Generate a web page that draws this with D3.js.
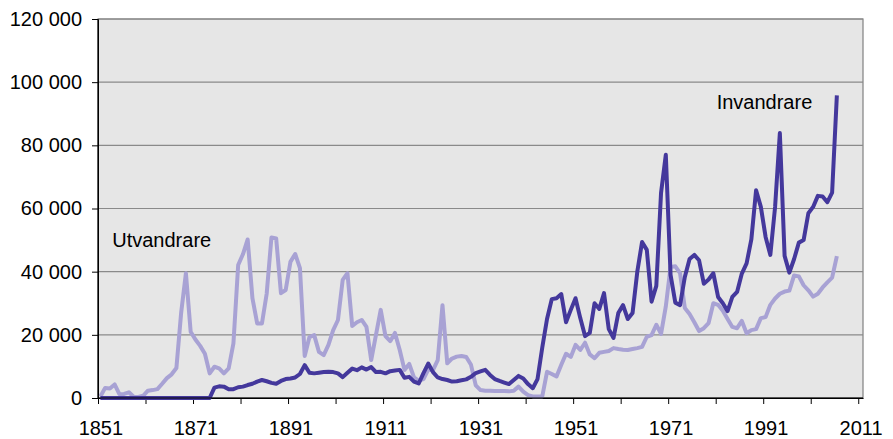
<meta charset="utf-8">
<style>
	body { margin: 0; background: #fff; }
	svg { display: block; }
	* { font-family: "Liberation Sans", Arial, sans-serif; }
	.axis text { font-size: 20px; fill: #000; }
	.axis path, .axis line { stroke: #000; }
	.lbl { font-size: 20px; fill: #000; }
</style>
<body>
<script src="https://cdn.jsdelivr.net/npm/d3@7"></script>
<svg id="svg"></svg>
<script>

// DATA
var firstYear = 1851
var lastYear = 2006

// Utvandrare (emigrants), 1851-2006, one value per year
var utvandrare = [
	500, 3200, 3000, 4300, 1200, 1300, 1800, 400, 300, 700,            // 1851-1860
	2300, 2500, 2800, 4500, 6300, 7500, 9500, 27000, 39500, 21000,     // 1861-1870
	18500, 16500, 14000, 7800, 9900, 9400, 7800, 9400, 17300, 42100,   // 1871-1880
	45500, 50200, 31600, 23600, 23600, 33000, 50800, 50500, 33200, 34200, // 1881-1890
	43100, 45600, 41100, 13300, 19300, 19900, 14600, 13600, 16800, 21500, // 1891-1900
	24700, 37400, 39500, 22800, 24000, 24700, 22500, 12000, 20000, 27900, // 1901-1910
	19600, 18000, 20600, 15200, 8900, 10800, 6500, 5500, 6000, 9000,   // 1911-1920
	8800, 12000, 29400, 11000, 12500, 13100, 13300, 13000, 10500, 4000, // 1921-1930
	2500, 2300, 2300, 2200, 2200, 2200, 2100, 2300, 3600, 2000,        // 1931-1940
	900, 500, 500, 500, 8300, 7600, 6800, 10500, 14000, 13000,         // 1941-1950
	16800, 15200, 17500, 13800, 12600, 14300, 14600, 14900, 15800, 15500, // 1951-1960
	15300, 15200, 15500, 15800, 16200, 19400, 19900, 23200, 20300, 29000, // 1961-1970
	41500, 41700, 39500, 28500, 26600, 24000, 21200, 22100, 23700, 30000, // 1971-1980
	29500, 27600, 25000, 22500, 22100, 24400, 20500, 21500, 21800, 25300, // 1981-1990
	25600, 29500, 31500, 33000, 33700, 34000, 38800, 38500, 35700, 34100, // 1991-2000
	32100, 33000, 35000, 36600, 38100, 44900                           // 2001-2006
]

// Invandrare (immigrants), 1851-2006 (no figures before 1875, drawn as 0)
var invandrare = [
	0, 0, 0, 0, 0, 0, 0, 0, 0, 0,                                      // 1851-1860
	0, 0, 0, 0, 0, 0, 0, 0, 0, 0,                                      // 1861-1870
	0, 0, 0, 0, 3300, 3700, 3600, 2800, 2800, 3400,                    // 1871-1880
	3600, 4100, 4500, 5200, 5700, 5300, 4800, 4500, 5400, 6000,        // 1881-1890
	6200, 6500, 7600, 10400, 8000, 7800, 8000, 8200, 8300, 8200,       // 1891-1900
	7800, 6600, 8000, 9300, 8800, 9700, 9000, 9800, 8200, 8300,        // 1901-1910
	7800, 8500, 8700, 8900, 6400, 6700, 5200, 4600, 7900, 10900,       // 1911-1920
	8200, 6500, 6000, 5700, 5200, 5300, 5600, 5900, 6700, 7900,        // 1921-1930
	8400, 8900, 7300, 6000, 5400, 4900, 4400, 5700, 7000, 6200,        // 1931-1940
	4400, 3100, 6000, 16000, 25000, 31300, 31600, 32900, 24000, 27900, // 1941-1950
	31600, 25300, 19600, 20600, 30000, 28200, 33200, 21800, 19000, 26900, // 1951-1960
	29400, 25000, 26900, 40000, 49400, 46900, 30500, 35500, 65000, 77000, // 1961-1970
	39000, 30200, 29400, 38300, 44000, 45300, 43600, 36200, 37500, 39500, // 1971-1980
	32000, 30000, 27500, 32000, 33600, 39400, 42600, 50200, 65800, 60500, // 1981-1990
	51000, 45300, 60500, 83900, 45000, 39700, 44000, 49200, 50000, 58500, // 1991-2000
	60500, 64000, 63800, 62000, 65000, 95800                           // 2001-2006
]

var years = d3.range( firstYear, lastYear + 1 )

// axis ticks and labels
var yTicks = [0, 20000, 40000, 60000, 80000, 100000, 120000]
var xTickYears = d3.range( 1851, 2012, 10 )
var xLabelYears = [1851, 1871, 1891, 1911, 1931, 1951, 1971, 1991, 2011]

// series label positions (year, value)
var seriesLabels = [
	{ text: 'Utvandrare', year: 1854, value: 47700 },
	{ text: 'Invandrare', year: 1981.2, value: 91500 }
]

// CANVAS
var width = 893
var height = 439
var plotL = 98, plotR = 863, plotT = 19, plotB = 398

var svg = d3.select( '#svg' )
	.attr( 'width', width )
	.attr( 'height', height )

// category axis: each year takes one slot, point sits in the middle of it
var x = d3.scaleLinear()
	.domain([ 1851, 2012 ])
	.range([ plotL, plotR ])

var xLabel = d3.scaleLinear()
	.domain([ 1850.5, 2011.5 ])
	.range([ plotL, plotR ])

var y = d3.scaleLinear()
	.domain([ 0, 120000 ])
	.range([ plotB, plotT ])

// PLOT AREA
svg.append( 'rect' )
	.attr( 'x', plotL )
	.attr( 'y', plotT )
	.attr( 'width', plotR - plotL )
	.attr( 'height', plotB - plotT )
	.attr( 'fill', '#e6e6e6' )
	.attr( 'stroke', '#808080' )
	.attr( 'stroke-width', 1.2 )

// grid
svg.append( 'g' )
	.selectAll( 'line' )
	.data( yTicks.slice( 1 ))
	.enter()
	.append( 'line' )
		.attr( 'x1', plotL )
		.attr( 'x2', plotR )
		.attr( 'y1', d => y( d ))
		.attr( 'y2', d => y( d ))
		.attr( 'stroke', '#8a8a8a' )
		.attr( 'stroke-width', 1.2 )

// Y axis
var fmt = d => d3.format( ',' )( d ).replace( /,/g, ' ' )

svg.append( 'g' )
	.attr( 'class', 'axis' )
	.attr( 'transform', 'translate(' + plotL + ',0)' )
	.call( d3.axisLeft( y )
		.tickValues( yTicks )
		.tickSize( 6 )
		.tickPadding( 10 )
		.tickSizeOuter( 0 )
		.tickFormat( fmt ))

// X axis: tick marks
svg.append( 'g' )
	.attr( 'class', 'axis' )
	.attr( 'transform', 'translate(0,' + plotB + ')' )
	.call( d3.axisBottom( x )
		.tickValues( xTickYears )
		.tickSize( 6 )
		.tickSizeOuter( 0 )
		.tickFormat( '' ))

// X axis: labels (centred on their year)
var xl = svg.append( 'g' )
	.attr( 'class', 'axis' )
	.attr( 'transform', 'translate(0,' + plotB + ')' )
	.call( d3.axisBottom( xLabel )
		.tickValues( xLabelYears )
		.tickSize( 0 )
		.tickPadding( 23 )
		.tickFormat( d3.format( 'd' )))
xl.select( '.domain' ).remove()

// LINES
var line = ( values )=> d3.line()
	.x( ( d, i )=> x( years[ i ] + 0.5 ))
	.y( d => y( d ))( values )

svg.append( 'path' )
	.attr( 'd', line( utvandrare ))
	.attr( 'fill', 'none' )
	.attr( 'stroke', '#a8a2d4' )
	.attr( 'stroke-width', 4 )
	.attr( 'stroke-linejoin', 'round' )

svg.append( 'path' )
	.attr( 'd', line( invandrare ))
	.attr( 'fill', 'none' )
	.attr( 'stroke', '#44389c' )
	.attr( 'stroke-width', 4 )
	.attr( 'stroke-linejoin', 'round' )

// redraw axis lines over the data
svg.append( 'line' )
	.attr( 'x1', plotL ).attr( 'x2', plotR )
	.attr( 'y1', plotB ).attr( 'y2', plotB )
	.attr( 'stroke', '#000' )

svg.append( 'line' )
	.attr( 'x1', plotL ).attr( 'x2', plotL )
	.attr( 'y1', plotT ).attr( 'y2', plotB )
	.attr( 'stroke', '#000' )

// LABELS
svg.append( 'g' )
	.selectAll( 'text' )
	.data( seriesLabels )
	.enter()
	.append( 'text' )
		.attr( 'class', 'lbl' )
		.attr( 'x', d => x( d.year ))
		.attr( 'y', d => y( d.value ))
		.text( d => d.text )

</script>
</body>
